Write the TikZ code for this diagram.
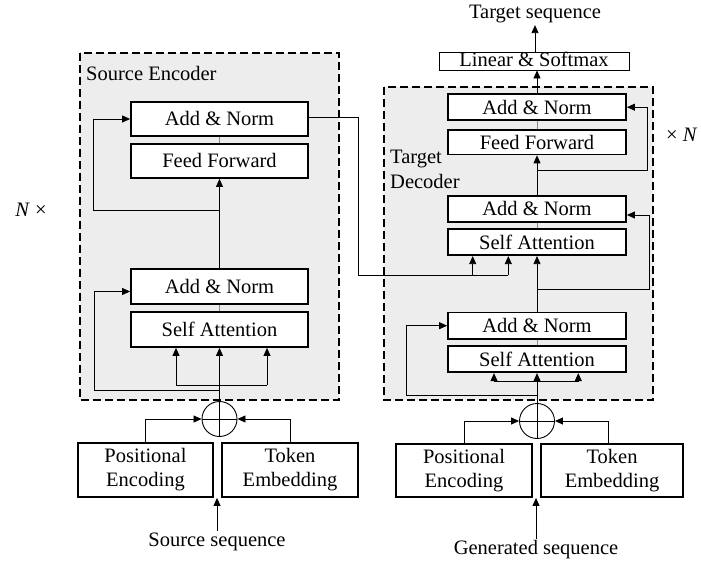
\documentclass[tikz,border=0pt]{standalone}
\usepackage{fontspec}
\setmainfont{Liberation Serif}
\usetikzlibrary{arrows.meta}
\begin{document}
\begin{tikzpicture}[x=1pt,y=-1pt,
  every node/.style={font=\fontsize{20.5}{24}\selectfont},
  blk/.style={draw, line width=1.8pt, fill=white, inner sep=0pt,
    text height=17pt, text depth=3pt, minimum width=177pt},
  thinblk/.style={draw, line width=0.9pt, fill=white, inner sep=0pt,
    text height=15pt, text depth=3pt},
  twoline/.style={draw, line width=1.8pt, fill=white, inner sep=0pt, align=center},
  group/.style={draw, fill=black!7, line width=1.3pt, dash pattern=on 8pt off 4pt},
  wire/.style={line width=0.8pt},
  link/.style={line width=0.7pt, draw=black!45},
  ar/.style={line width=0.8pt, -{Triangle[length=8pt,width=7pt]}},
  plus/.style={draw, circle, line width=0.9pt, minimum size=35pt, inner sep=0pt},
  lbl/.style={inner sep=2pt}
]
\useasboundingbox (0,0) rectangle (701,561);

% ---------- stack outlines ----------
\draw[group] (80,53) rectangle (339,400);
\draw[group] (384,87) rectangle (653,400);
\node[lbl, anchor=west] (encname) at (84,73) {Source Encoder};
\node[lbl, anchor=west, align=left, font=\fontsize{20.5}{25}\selectfont] (decname) at (388,169) {Target\\Decoder};
\node[lbl] (nleft) at (31,210) {\textit{N} ×};
\node[lbl, anchor=west] (nright) at (664,135) {× \textit{N}};

% ---------- encoder ----------
\node[blk, minimum height=34pt] (eAN2) at (219.5,119) {Add \& Norm};
\node[blk, minimum height=34pt] (eFF) at (219.5,161) {Feed Forward};
\node[blk, minimum height=35pt] (eAN1) at (219.5,286.5) {Add \& Norm};
\node[blk, minimum height=35pt] (eSA) at (219.5,329.5) {Self Attention};
\node[plus] (eplus) at (219.5,419) {};
\node[twoline, minimum width=135pt, minimum height=54pt] (ePE) at (145.5,470) {Positional\\Encoding};
\node[twoline, minimum width=136pt, minimum height=54pt] (eTE) at (290,470) {Token\\Embedding};
\node[lbl] (esrc) at (217,542) {Source sequence};

\coordinate (eJ2) at (219.5,210);
\coordinate (eJ1) at (219.5,390);
\coordinate (eBl) at (176,385);
\coordinate (eBr) at (267,385);

\draw[link] (eAN2.south) -- (eFF.north);
\draw[link] (eAN1.south) -- (eSA.north);
\draw[ar] (eAN1.north) -- (eFF.south);
\draw[ar] (eJ2) -- ++(-126.5,0) |- (eAN2.west);
\draw[wire] (eplus.north) -- (eplus.south);
\draw[wire] (eplus.west) -- (eplus.east);
\draw[ar] (eplus.north) -- (eSA.south);
\draw[wire] (eBl) -- (eBr);
\draw[ar] (eBl) -- (eBl |- eSA.south);
\draw[ar] (eBr) -- (eBr |- eSA.south);
\draw[ar] (eJ1) -- ++(-125.5,0) |- ([yshift=-5pt]eAN1.west);
\draw[ar] (ePE.north) |- (eplus.west);
\draw[ar] (eTE.north) |- (eplus.east);
\draw[ar] (esrc.north) -- (esrc.north |- ePE.south);

% ---------- decoder ----------
\node[thinblk, minimum width=190pt, minimum height=18pt] (dLin) at (534,61) {Linear \& Softmax};
\node[lbl] (tgt) at (535,14) {Target sequence};
\node[blk, minimum width=178pt, minimum height=26pt] (dAN3) at (537,107.2) {Add \& Norm};
\node[blk, minimum width=178pt, minimum height=24.5pt] (dFF) at (537,142.2) {Feed Forward};
\node[blk, minimum width=178pt, minimum height=26pt] (dAN2) at (537,209) {Add \& Norm};
\node[blk, minimum width=178pt, minimum height=26pt] (dSA2) at (537,242.2) {Self Attention};
\node[blk, minimum width=178pt, minimum height=26.5pt] (dAN1) at (537,325.7) {Add \& Norm};
\node[blk, minimum width=178pt, minimum height=26.5pt] (dSA1) at (537,359) {Self Attention};
\node[plus] (dplus) at (537,421) {};
\node[twoline, minimum width=136pt, minimum height=53pt] (dPE) at (464,470.5) {Positional\\Encoding};
\node[twoline, minimum width=142pt, minimum height=53pt] (dTE) at (612,470.5) {Token\\Embedding};
\node[lbl] (dgen) at (536,550) {Generated sequence};

\coordinate (dJ3) at (537,170.7);
\coordinate (dJ2) at (537,289.3);
\coordinate (dJ1) at (537,395);
\coordinate (dBl) at (494,381);
\coordinate (dBr) at (578.3,381);
\coordinate (xK) at (358,275);
\coordinate (xQ) at (472.7,275);
\coordinate (xV) at (508.3,275);

\draw[ar] (dAN3.north) -- (dAN3.north |- dLin.south);
\draw[ar] (tgt.south |- dLin.north) -- (tgt.south);
\draw[link] (dAN3.south) -- (dFF.north);
\draw[ar] (dAN2.north) -- (dFF.south);
\draw[ar] (dJ3) -- ++(110.7,0) |- (dAN3.east);
\draw[link] (dAN2.south) -- (dSA2.north);
\draw[ar] (dAN1.north) -- (dSA2.south);
\draw[ar] (dJ2) -- ++(112,0) |- ([yshift=-6pt]dAN2.east);
\draw[link] (dAN1.south) -- (dSA1.north);
\draw[wire] (dplus.north) -- (dplus.south);
\draw[wire] (dplus.west) -- (dplus.east);
\draw[ar] (dplus.north) -- (dSA1.south);
\draw[wire] (dBl) -- (dBr);
\draw[ar] (dBl) -- (dBl |- dSA1.south);
\draw[ar] (dBr) -- (dBr |- dSA1.south);
\draw[ar] (dJ1) -- ++(-130.3,0) |- (dAN1.west);
\draw[ar] (dPE.north) |- (dplus.west);
\draw[ar] ([xshift=-4pt]dTE.north) |- (dplus.east);
\draw[ar] (dgen.north) -- (dgen.north |- dPE.south);

% ---------- encoder output into the decoder ----------
\draw[wire] ([yshift=2pt]eAN2.east) -| (xK) -- (xV);
\draw[ar] (xQ) -- (xQ |- dSA2.south);
\draw[ar] (xV) -- (xV |- dSA2.south);
\end{tikzpicture}
\end{document}
